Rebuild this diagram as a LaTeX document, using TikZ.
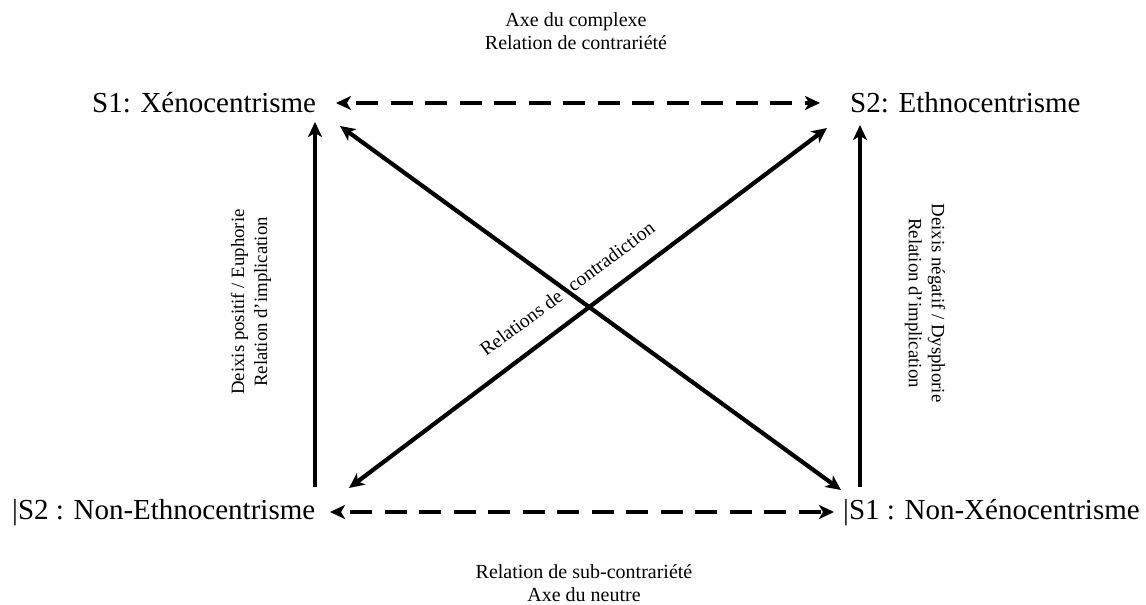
\documentclass[tikz,border=0pt]{standalone}
\usepackage{fontspec}
\setmainfont{Liberation Serif}
\usetikzlibrary{arrows.meta}
\begin{document}
\begin{tikzpicture}[x=1pt,y=-1pt,
  lbl/.style={inner sep=0pt, anchor=base west, font=\fontsize{29}{34}\selectfont},
  note/.style={inner sep=0pt, align=center, font=\fontsize{20}{23}\selectfont},
  side/.style={inner sep=0pt, align=center, font=\fontsize{18.8}{23}\selectfont},
  conn/.style={line width=4.2pt},
  both/.style={conn, {Stealth[length=15pt,width=14pt,inset=4pt]}-{Stealth[length=15pt,width=14pt,inset=4pt]}},
  up/.style={conn, -{Stealth[length=15pt,width=14pt,inset=4pt]}},
  dashline/.style={dash pattern=on 22pt off 12.5pt, dash phase=24.5pt}
]
\useasboundingbox (0,0) rectangle (1146,605);

% labels
\node[lbl] (s1) at (92,112) {S1: Xénocentrisme};
\node[lbl] (s2) at (850,112) {S2: Ethnocentrisme};
\node[lbl] (ns2) at (12,519) {|S2 : Non-Ethnocentrisme};
\node[lbl] (ns1) at (843,519) {|S1 : Non-Xénocentrisme};

\node[note] (top) at (576,31) {Axe du complexe\\Relation de contrariété};
\node[note] (bot) at (584,583) {Relation de sub-contrariété\\Axe du neutre};

\node[side, rotate=90] (left) at (251,302) {Deixis positif / Euphorie\\Relation d’implication};
\node[side, rotate=-90] (right) at (925,303) {Deixis négatif / Dysphorie\\Relation d’implication};

\node[inner sep=0pt, anchor=base west, rotate=36.5, font=\fontsize{19.5}{23}\selectfont] (contra) at (486,357) {Relations de\hspace{0.6em}contradiction};

% connector ends
\coordinate (tl) at (336,103);
\coordinate (tr) at (820,103);
\coordinate (bl) at (330,512);
\coordinate (br) at (834,512);
\coordinate (lvb) at (315,487);
\coordinate (lvt) at (315,122);
\coordinate (rvb) at (860,487);
\coordinate (rvt) at (860,125);
\coordinate (d1a) at (340,126);
\coordinate (d1b) at (841,490);
\coordinate (d2a) at (349,488);
\coordinate (d2b) at (827,128);

% connectors
\draw[both, dashline] (tl) -- (tr);
\draw[both, dashline] (bl) -- (br);
\draw[up] (lvb) -- (lvt);
\draw[up] (rvb) -- (rvt);
\draw[both] (d1a) -- (d1b);
\draw[both] (d2a) -- (d2b);
\end{tikzpicture}
\end{document}
